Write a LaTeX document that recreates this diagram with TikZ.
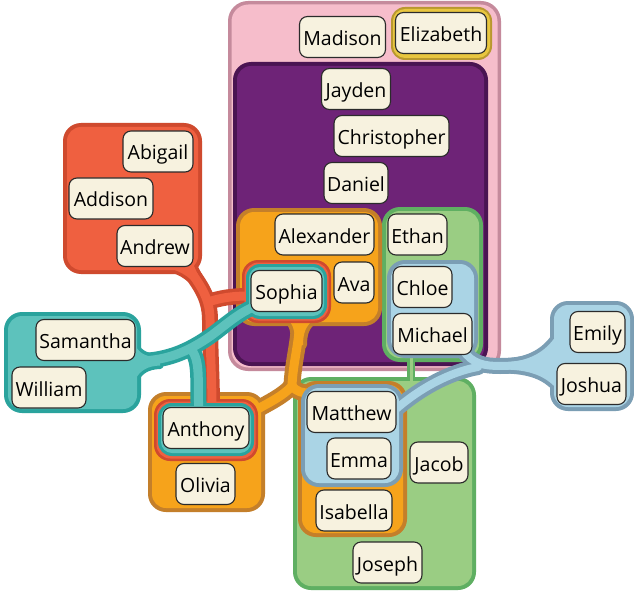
\documentclass[tikz,border=0pt]{standalone}
\usepackage{fontspec}
\setmainfont{Open Sans}
\definecolor{pinkB}{HTML}{C58A9C}
\definecolor{pinkF}{HTML}{F6BDCB}
\definecolor{purB}{HTML}{4A1452}
\definecolor{purF}{HTML}{6E2377}
\definecolor{goldB}{HTML}{B8982F}
\definecolor{goldF}{HTML}{E8C63F}
\definecolor{grnB}{HTML}{5FAF62}
\definecolor{grnF}{HTML}{9ACD83}
\definecolor{orgB}{HTML}{C47F2A}
\definecolor{orgF}{HTML}{F6A31B}
\definecolor{bluB}{HTML}{7B9EB4}
\definecolor{bluF}{HTML}{AAD4E5}
\definecolor{redB}{HTML}{CF4A2E}
\definecolor{redF}{HTML}{EF6040}
\definecolor{tealB}{HTML}{2AA39D}
\definecolor{tealF}{HTML}{5DC2BC}
\definecolor{nodeF}{HTML}{F7F2DF}
\definecolor{nodeB}{HTML}{2B2B2B}
\begin{document}
\begin{tikzpicture}[x=1pt,y=-1pt,line cap=round,line join=round,
  nm/.style={draw=nodeB,fill=nodeF,rounded corners=8pt,line width=1.1pt,
    minimum height=41pt,inner xsep=3pt,inner ysep=0pt,text height=21pt,text depth=4pt,
    font=\fontsize{19.5}{22}\selectfont},
]
\useasboundingbox (0,0) rectangle (634,596);
\fill[white] (0,0) rectangle (634,596);

% ---------- pink set ----------
\fill[pinkB, rounded corners=20] (228,1) rectangle (501,371);
\fill[pinkF, rounded corners=17] (231.5,4.5) rectangle (497.5,367.5);

% ---------- purple set ----------
\fill[purB, rounded corners=18] (233,62) rectangle (488,366);
\fill[purF, rounded corners=14] (237,66) rectangle (484,362);

% ---------- gold set ----------
\fill[goldB, rounded corners=14] (391,7) rectangle (492,60);
\fill[goldF, rounded corners=12] (393,9) rectangle (490,58);

% ---------- green set ----------
\fill[grnB, rounded corners=18] (382,207) rectangle (483,362);
\fill[grnB, rounded corners=18] (293,377) rectangle (476,590);
\draw[grnB, line width=8] (411,355) -- (411,384);
\fill[grnF, rounded corners=14] (386,211) rectangle (479,358);
\fill[grnF, rounded corners=14] (297,381) rectangle (472,586);
\draw[grnF, line width=3] (411,355) -- (411,384);

% ---------- orange set ----------
\fill[orgB, rounded corners=18] (236,208) rectangle (382,326);
\fill[orgB, rounded corners=18] (148,392) rectangle (265,512);
\fill[orgB, rounded corners=18] (298,381) rectangle (407,537);
\draw[orgB, line width=17] (300,318) .. controls (299,345) and (293,362) .. (292,386);
\draw[orgB, line width=17] (292,386) .. controls (283,396) and (270,402) .. (256,410);
\draw[orgB, line width=17] (292,386) .. controls (297,392) and (302,393) .. (310,393);
\filldraw[orgB, line width=8] (288,320) .. controls (294,325) and (295,333) .. (295,345) -- (303,345) .. controls (303,333) and (306,325) .. (314,320) -- cycle;
\fill[orgF, rounded corners=14] (240,212) rectangle (378,322);
\fill[orgF, rounded corners=14] (152,396) rectangle (261,508);
\fill[orgF, rounded corners=14] (302,385) rectangle (403,533);
\draw[orgF, line width=9] (300,318) .. controls (299,345) and (293,362) .. (292,386);
\draw[orgF, line width=9] (292,386) .. controls (283,396) and (270,402) .. (256,410);
\draw[orgF, line width=9] (292,386) .. controls (297,392) and (302,393) .. (310,393);
\fill[orgF] (288,320) .. controls (294,325) and (295,333) .. (295,345) -- (303,345) .. controls (303,333) and (306,325) .. (314,320) -- cycle;

% ---------- blue set ----------
\fill[bluB, rounded corners=18] (387,260) rectangle (478,358);
\fill[bluB, rounded corners=18] (301,384) rectangle (403,487);
\fill[bluB, rounded corners=18] (550,301) rectangle (634,411);
\draw[bluB, line width=16] (560,356) .. controls (535,362) and (520,366) .. (500,366) .. controls (485,366) and (472,364) .. (463,350);
\draw[bluB, line width=16] (478,367) .. controls (450,372) and (420,388) .. (395,410);
\filldraw[bluB, line width=8] (556,336) .. controls (545,352) and (530,361) .. (505,362.5) -- (505,369.5) .. controls (530,370) and (545,376) .. (556,388) -- cycle;
\fill[bluF, rounded corners=14] (391,264) rectangle (474,354);
\fill[bluF, rounded corners=14] (305,388) rectangle (399,483);
\fill[bluF, rounded corners=14] (554,305) rectangle (630,407);
\draw[bluF, line width=8] (560,356) .. controls (535,362) and (520,366) .. (500,366) .. controls (485,366) and (472,364) .. (463,350);
\draw[bluF, line width=8] (478,367) .. controls (450,372) and (420,388) .. (395,410);
\fill[bluF] (556,336) .. controls (545,352) and (530,361) .. (505,362.5) -- (505,369.5) .. controls (530,370) and (545,376) .. (556,388) -- cycle;

% ---------- red set ----------
\fill[redB, rounded corners=18] (63,123) rectangle (202,274);
\fill[redB, rounded corners=16] (242,260) rectangle (331,323);
\fill[redB, rounded corners=16] (154,399) rectangle (258,461);
\draw[redB, line width=16] (184,262) .. controls (198,283) and (210,295) .. (210,320) .. controls (210,350) and (212,380) .. (212,406);
\draw[redB, line width=16] (208,302) .. controls (220,298) and (232,296) .. (248,296);
\filldraw[redB, line width=7] (168,268) .. controls (182,271) and (194,280) .. (199,290) -- (207,290) .. controls (203,282) and (198,276) .. (194,266) -- cycle;
\fill[redF, rounded corners=14] (67,127) rectangle (198,270);
\fill[redF, rounded corners=14] (244.5,262.5) rectangle (328.5,320.5);
\fill[redF, rounded corners=14] (156.5,401.5) rectangle (255.5,458.5);
\draw[redF, line width=9] (184,262) .. controls (198,283) and (210,295) .. (210,320) .. controls (210,350) and (212,380) .. (212,406);
\draw[redF, line width=9] (208,302) .. controls (220,298) and (232,296) .. (248,296);
\fill[redF] (168,268) .. controls (182,271) and (194,280) .. (199,290) -- (207,290) .. controls (203,282) and (198,276) .. (194,266) -- cycle;

% ---------- teal set ----------
\fill[tealB, rounded corners=18] (4,312) rectangle (141,413);
\fill[tealB, rounded corners=14] (246,264) rectangle (327,319);
\fill[tealB, rounded corners=14] (158,403) rectangle (254,456);
\draw[tealB, line width=16] (132,361) .. controls (165,362) and (188,352) .. (212,335) .. controls (228,323) and (240,312) .. (256,306);
\draw[tealB, line width=16] (193,352) .. controls (201,365) and (197,388) .. (199,410);
\filldraw[tealB, line width=7] (135,345) .. controls (140,355) and (148,357) .. (160,357.5) -- (160,365.5) .. controls (148,366) and (140,370) .. (135,380) -- cycle;
\fill[tealF, rounded corners=14] (8,316) rectangle (137,409);
\fill[tealF, rounded corners=11] (249,267) rectangle (324,316);
\fill[tealF, rounded corners=11] (161,406) rectangle (251,453);
\draw[tealF, line width=9] (132,361) .. controls (165,362) and (188,352) .. (212,335) .. controls (228,323) and (240,312) .. (256,306);
\draw[tealF, line width=9] (193,352) .. controls (201,365) and (197,388) .. (199,410);
\fill[tealF] (135,345) .. controls (140,355) and (148,357) .. (160,357.5) -- (160,365.5) .. controls (148,366) and (140,370) .. (135,380) -- cycle;

% ---------- name nodes ----------
\node[nm, minimum width=86pt]  (madison)     at (342.5,37)  {Madison};
\node[nm, minimum width=91pt]  (elizabeth)   at (441,33)    {Elizabeth};
\node[nm, minimum width=69pt]  (jayden)      at (356,89)    {Jayden};
\node[nm, minimum width=115pt] (christopher) at (391.5,136) {Christopher};
\node[nm, minimum width=64pt]  (daniel)      at (356,183)   {Daniel};
\node[nm, minimum width=99pt]  (alexander)   at (324.5,234.5) {Alexander};
\node[nm, minimum width=40pt]  (ava)         at (354,282.5) {Ava};
\node[nm, minimum width=71pt]  (sophia)      at (286.5,291) {Sophia};
\node[nm, minimum width=59pt]  (ethan)       at (417.5,234.5) {Ethan};
\node[nm, minimum width=59pt]  (chloe)       at (422.5,287) {Chloe};
\node[nm, minimum width=79pt]  (michael)     at (432.5,334) {Michael};
\node[nm, minimum width=70pt]  (abigail)     at (158,151.5) {Abigail};
\node[nm, minimum width=84pt]  (addison)     at (111,198.5) {Addison};
\node[nm, minimum width=76pt]  (andrew)      at (155,246)   {Andrew};
\node[nm, minimum width=99pt]  (samantha)    at (85.5,340)  {Samantha};
\node[nm, minimum width=74pt]  (william)     at (49,387.5)  {William};
\node[nm, minimum width=86pt]  (anthony)     at (206,428)   {Anthony};
\node[nm, minimum width=59pt]  (olivia)      at (205.5,484) {Olivia};
\node[nm, minimum width=89pt]  (matthew)     at (351.5,412) {Matthew};
\node[nm, minimum width=64pt]  (emma)        at (359,458.5) {Emma};
\node[nm, minimum width=58pt]  (jacob)       at (439,462.5) {Jacob};
\node[nm, minimum width=76pt]  (isabella)    at (354,510.5) {Isabella};
\node[nm, minimum width=69pt]  (joseph)      at (387.5,562.5) {Joseph};
\node[nm, minimum width=55pt]  (emily)       at (597.5,332) {Emily};
\node[nm, minimum width=69pt]  (joshua)      at (591.5,384) {Joshua};
\end{tikzpicture}
\end{document}
